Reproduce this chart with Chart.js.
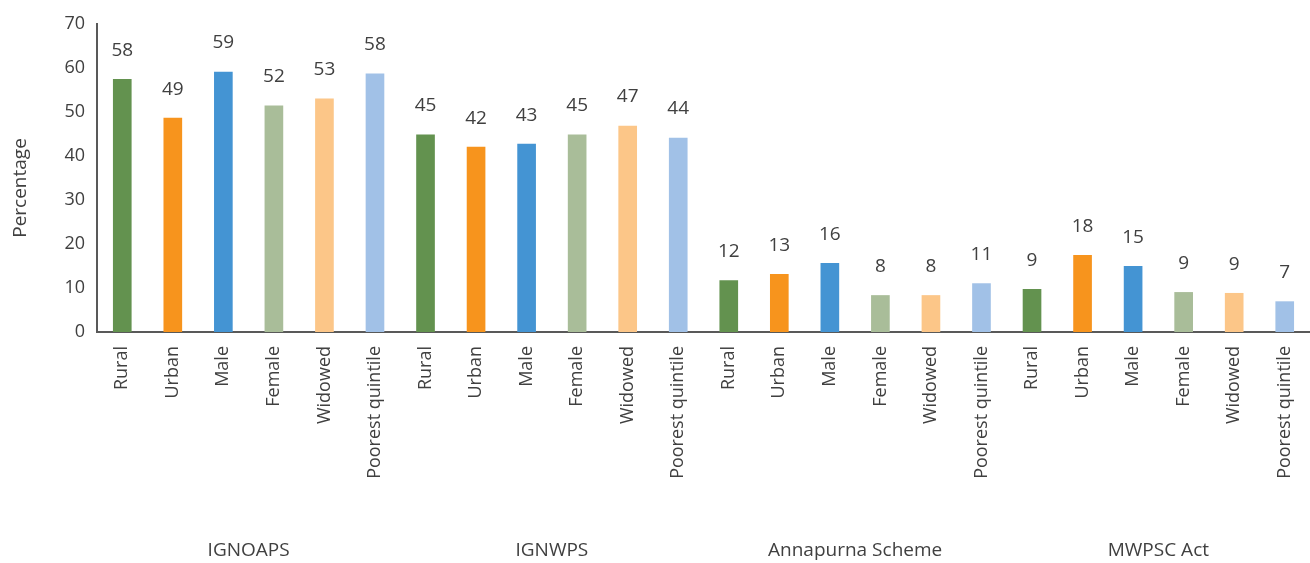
<!DOCTYPE html>
<html>
<head>
<meta charset="utf-8">
<script src="https://cdn.jsdelivr.net/npm/chart.js@4/dist/chart.umd.min.js"></script>
<style>
  html, body { margin: 0; padding: 0; background: #fff; }
  #wrap { width: 1310px; height: 563px; position: relative; }
</style>
</head>
<body>
<div id="wrap"><canvas id="myChart"></canvas></div>
<script>
const schemes = ['IGNOAPS', 'IGNWPS', 'Annapurna Scheme', 'MWPSC Act'];
const groupsShown = ['Rural', 'Urban', 'Male', 'Female', 'Widowed', 'Poorest quintile'];

const ignoaps = [57.4, 48.6, 59.1, 51.4, 53.0, 58.7];
const ignwps = [44.8, 42.0, 42.7, 44.8, 46.8, 44.1];
const annapurna = [11.7, 13.1, 15.6, 8.3, 8.3, 11.0];
const mwpsc = [9.7, 17.4, 14.9, 9.0, 8.8, 6.9];

const ignoapsLabels = ['58', '49', '59', '52', '53', '58'];
const ignwpsLabels = ['45', '42', '43', '45', '47', '44'];
const annapurnaLabels = ['12', '13', '16', '8', '8', '11'];
const mwpscLabels = ['9', '18', '15', '9', '9', '7'];

const yTicks = [0, 10, 20, 30, 40, 50, 60, 70];
const yTitle = 'Percentage';

const groupColors = ['#63924f', '#f7941d', '#4494d3', '#a9bd99', '#fcc688', '#a1c1e7'];

const values = [...ignoaps, ...ignwps, ...annapurna, ...mwpsc];
const valueLabels = [...ignoapsLabels, ...ignwpsLabels, ...annapurnaLabels, ...mwpscLabels];
const labels = schemes.flatMap(() => groupsShown);
const colors = schemes.flatMap(() => groupColors);

const FONT = "'Open Sans', 'Noto Sans', sans-serif";
const TEXT = '#404040';

// numbers above bars
const valueLabelPlugin = {
  id: 'valueLabels',
  afterDatasetsDraw(chart) {
    const ctx = chart.ctx;
    const meta = chart.getDatasetMeta(0);
    ctx.save();
    ctx.font = '19px ' + FONT;
    ctx.fillStyle = TEXT;
    ctx.textAlign = 'center';
    ctx.textBaseline = 'middle';
    meta.data.forEach((bar, i) => {
      ctx.fillText(valueLabels[i], bar.x, bar.y - 29);
    });
    ctx.restore();
  }
};

// scheme names under each block of six bars + the y title
const extraTextPlugin = {
  id: 'extraText',
  afterDraw(chart) {
    const ctx = chart.ctx;
    const x = chart.scales.x;
    ctx.save();
    ctx.font = '19px ' + FONT;
    ctx.fillStyle = TEXT;
    ctx.textAlign = 'center';
    ctx.textBaseline = 'middle';
    schemes.forEach((name, g) => {
      const first = x.getPixelForValue(g * groupsShown.length);
      const last = x.getPixelForValue(g * groupsShown.length + groupsShown.length - 1);
      ctx.fillText(name, (first + last) / 2, 551);
    });
    ctx.translate(21, 188);
    ctx.rotate(-Math.PI / 2);
    ctx.fillText(yTitle, 0, 0);
    ctx.restore();
  }
};

const ctx = document.getElementById('myChart').getContext('2d');
const myChart = new Chart(ctx, {
  type: 'bar',
  data: {
    labels: labels,
    datasets: [{
      data: values,
      backgroundColor: colors,
      barThickness: 18
    }]
  },
  options: {
    responsive: true,
    maintainAspectRatio: false,
    animation: false,
    layout: { padding: { top: 24, right: 0, bottom: 0, left: 0 } },
    plugins: {
      legend: { display: false },
      tooltip: { enabled: false }
    },
    scales: {
      x: {
        grid: { display: false, drawTicks: false },
        border: { display: true, color: '#595959', width: 2 },
        ticks: {
          color: TEXT,
          font: { family: FONT, size: 18 },
          minRotation: 90,
          maxRotation: 90,
          autoSkip: false,
          padding: 14
        },
        afterFit(scale) {
          scale.height = 231;
          scale.paddingLeft = 0;
          scale.paddingRight = 0;
        }
      },
      y: {
        min: 0,
        max: 70,
        afterBuildTicks(scale) { scale.ticks = yTicks.map(v => ({ value: v })); },
        grid: { display: false, drawTicks: false },
        border: { display: true, color: '#595959', width: 2 },
        ticks: {
          color: TEXT,
          font: { family: FONT, size: 18 },
          padding: 12
        },
        afterFit(scale) { scale.width = 97; }
      }
    }
  },
  plugins: [valueLabelPlugin, extraTextPlugin]
});
</script>
</body>
</html>
